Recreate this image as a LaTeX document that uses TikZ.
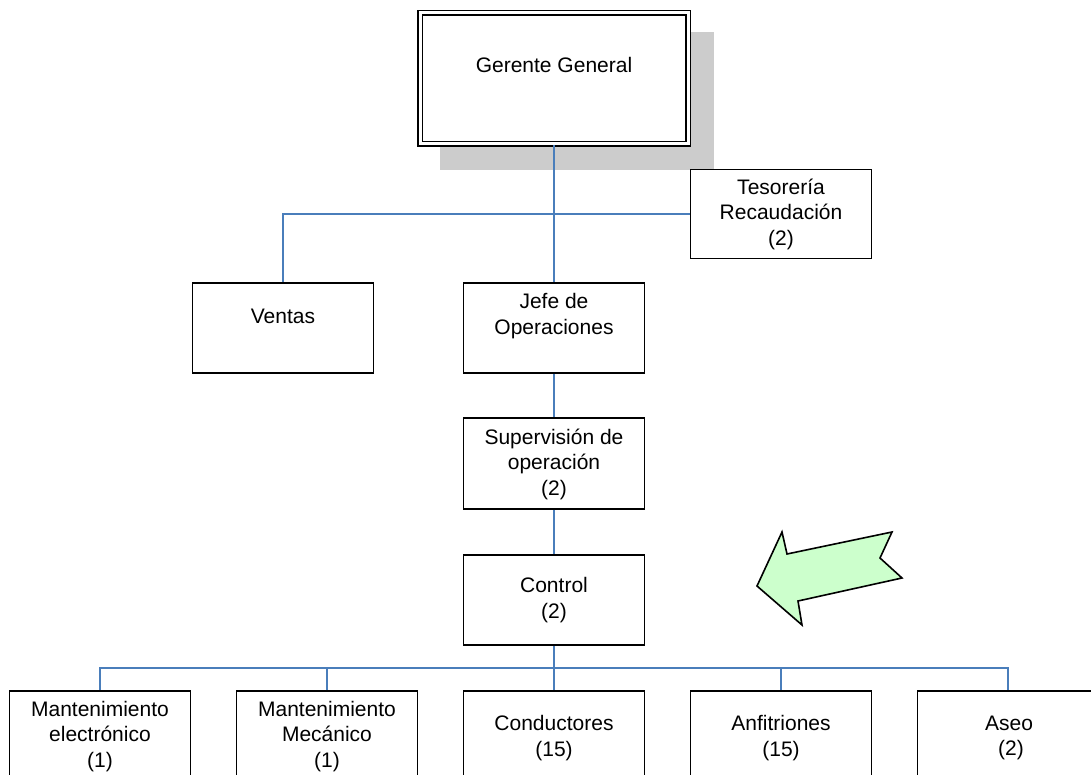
\documentclass[tikz,border=0pt]{standalone}
\usepackage{fontspec}
\setmainfont{Liberation Sans}
\begin{document}
\begin{tikzpicture}[x=1pt,y=-1pt,
  box/.style={draw=black,line width=1.8pt,fill=white,inner sep=0pt,minimum width=181pt,minimum height=90pt},
  lowbox/.style={box,minimum height=110pt},
  txt/.style={inner sep=0pt,align=center,font=\fontsize{21}{25.5}\selectfont},
  conn/.style={draw={rgb,255:red,74;green,126;blue,187},line width=1.5pt}]
\useasboundingbox (0,0) rectangle (1091,775);
\clip (0,0) rectangle (1091,775);
\fill[white] (0,0) rectangle (1091,775);

% shadow and head box
\fill[black!20] (440,32) rectangle (714,170);
\node[draw=black,line width=1.8pt,double=white,double distance=3pt,fill=white,
      minimum width=268pt,minimum height=131pt,inner sep=0pt] (gg) at (554,78.5) {};
\node[txt] (gg-t) at (554,65) {Gerente General};

% second level
\node[box,minimum height=89pt] (tes) at (781,214) {};
\node[txt] (tes-t) at (781,214) {Tesorería\\Recaudación\\(2)};
\node[box] (ventas) at (283,328) {};
\node[txt] (ventas-t) at (283,316) {Ventas};
\node[box] (jefe) at (554,328) {};
\node[txt] (jefe-t) at (554,316) {Jefe de\\Operaciones};

% operation chain
\node[box,minimum height=91pt] (sup) at (554,463.5) {};
\node[txt] (sup-t) at (554,464) {Supervisión de\\operación\\(2)};
\node[box] (ctrl) at (554,600) {};
\node[txt] (ctrl-t) at (554,600) {Control\\(2)};

% bottom row
\node[lowbox] (b1) at (100,746) {};
\node[txt,anchor=north] (b1-t) at (100,701) {Mantenimiento\\electrónico\\(1)};
\node[lowbox] (b2) at (327,746) {};
\node[txt,anchor=north] (b2-t) at (327,701) {Mantenimiento\\Mecánico\\(1)};
\node[lowbox] (b3) at (554,746) {};
\node[txt] (b3-t) at (554,738) {Conductores\\(15)};
\node[lowbox] (b4) at (781,746) {};
\node[txt] (b4-t) at (781,738) {Anfitriones\\(15)};
\node[lowbox] (b5) at (1008,746) {};
\node[txt] (b5-t) at (1009,738) {Aseo\\\hspace*{4pt}(2)};

% connectors
\draw[conn] (gg.south) -- (jefe.north);
\draw[conn] (ventas.north) |- (tes.west);
\draw[conn] (jefe.south) -- (sup.north);
\draw[conn] (sup.south) -- (ctrl.north);
\draw[conn] (ctrl.south) -- (b3.north);
\coordinate (busL) at (100,668);
\draw[conn] (b1.north) -- (busL) -| (b5.north);
\draw[conn] (b2.north) -- (b2.north |- busL);
\draw[conn] (b4.north) -- (b4.north |- busL);

% arrow
\draw[line width=1.6pt,line join=miter,fill={rgb,255:red,204;green,255;blue,204}]
  (757,586) -- (782,532) -- (787,554) -- (892,532) -- (880,558)
  -- (902,578) -- (798,601) -- (802,625) -- cycle;
\end{tikzpicture}
\end{document}
